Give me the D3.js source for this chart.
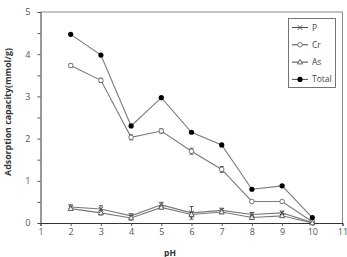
<!DOCTYPE html>
<html><head><meta charset="utf-8">
<script src="https://cdn.jsdelivr.net/npm/d3@7"></script>
<style>body{margin:0;background:#fff;}svg{display:block;font-family:"Open Sans",sans-serif;}</style>
</head><body>
<svg id="c" width="347" height="257"></svg>
<script>
const pH = [2,3,4,5,6,7,8,9,10];
const P     = [0.38,0.33,0.17,0.43,0.24,0.30,0.20,0.24,0.01];
const Cr    = [3.73,3.38,2.03,2.18,1.70,1.27,0.51,0.51,0.03];
const As    = [0.34,0.24,0.12,0.37,0.20,0.26,0.13,0.17,0.00];
const Total = [4.47,3.98,2.30,2.97,2.15,1.85,0.80,0.88,0.13];
const errP  = [0.05,0.08,0.05,0.06,0.15,0.05,0.05,0.04,0.01];
const errCr = [0.04,0.05,0.06,0.05,0.07,0.07,0.02,0.02,0.01];
const errAs = [0.04,0.05,0.05,0.04,0.06,0.04,0.04,0.03,0.01];
const xTicks = [1,2,3,4,5,6,7,8,9,10,11];
const yTicks = [0,1,2,3,4,5];
const seriesNames = ["P","Cr","As","Total"];

const svg = d3.select("#c");
const x = d3.scaleLinear().domain([1,11]).range([40.5,342.5]);
const y = d3.scaleLinear().domain([0,5]).range([223,12]);

// frame (top/right)
svg.append("path").attr("d",`M${x(1)},${y(5)}H${x(11)}V${y(0)}`).attr("fill","none").attr("stroke","#888").attr("stroke-width",1);

// axes
const xa = svg.append("g").attr("transform",`translate(0,${y(0)})`).call(d3.axisBottom(x).tickValues(xTicks).tickSize(3).tickPadding(3));
const ya = svg.append("g").attr("transform",`translate(${x(1)},0)`).call(d3.axisLeft(y).tickValues(d3.range(0,5.01,0.5)).tickSize(3).tickPadding(7).tickFormat(d=>Number.isInteger(d)?d:""));
[xa,ya].forEach(a=>{a.select(".domain").attr("stroke","#333");a.selectAll(".tick line").attr("stroke","#555");a.selectAll("text").attr("fill","#555").attr("font-size",9).attr("font-family","Open Sans, sans-serif");});

// labels
svg.append("text").attr("x",170).attr("y",256).attr("text-anchor","middle").attr("font-size",8.5).attr("font-weight","bold").attr("fill","#333").text("pH");
svg.append("text").attr("transform","translate(11,112) rotate(-90)").attr("text-anchor","middle").attr("font-size",8.8).attr("font-weight","bold").attr("fill","#333").text("Adsorption capacity(mmol/g)");

const line = d3.line().x((d,i)=>x(pH[i])).y(d=>y(d));
const data = [
  {name:"P",v:P,e:errP},
  {name:"Cr",v:Cr,e:errCr},
  {name:"As",v:As,e:errAs},
  {name:"Total",v:Total,e:null}
];
const lc = "#7a7a7a";
function marker(g,name,cx,cy){
  if(name==="P"){
    g.append("path").attr("d",`M${cx-2.3},${cy-2.3}L${cx+2.3},${cy+2.3}M${cx-2.3},${cy+2.3}L${cx+2.3},${cy-2.3}`).attr("stroke","#444").attr("stroke-width",0.9);
  } else if(name==="Cr"){
    g.append("circle").attr("cx",cx).attr("cy",cy).attr("r",2.3).attr("fill","#fff").attr("stroke","#666").attr("stroke-width",0.9);
  } else if(name==="As"){
    g.append("path").attr("d",`M${cx},${cy-2.7}L${cx+2.6},${cy+1.8}L${cx-2.6},${cy+1.8}Z`).attr("fill","#fff").attr("stroke","#555").attr("stroke-width",0.9);
  } else {
    g.append("circle").attr("cx",cx).attr("cy",cy).attr("r",2.6).attr("fill","#000");
  }
}
data.forEach(s=>{
  const g = svg.append("g");
  g.append("path").datum(s.v).attr("d",line).attr("fill","none").attr("stroke",lc).attr("stroke-width",1.1);
  if(s.e){
    s.v.forEach((d,i)=>{
      const cx=x(pH[i]);
      g.append("path").attr("d",`M${cx},${y(d+s.e[i])}V${y(Math.max(0,d-s.e[i]))}M${cx-2},${y(d+s.e[i])}H${cx+2}M${cx-2},${y(Math.max(0,d-s.e[i]))}H${cx+2}`).attr("stroke","#333").attr("stroke-width",0.8).attr("fill","none");
    });
  }
  s.v.forEach((d,i)=>marker(g,s.name,x(pH[i]),y(d)));
});

// legend
const lg = svg.append("g");
lg.append("rect").attr("x",288.5).attr("y",18.5).attr("width",47).attr("height",69).attr("fill","#fff").attr("stroke","#666").attr("stroke-width",0.9);
seriesNames.forEach((n,i)=>{
  const cy = 27.5 + i*17.3;
  lg.append("line").attr("x1",292).attr("x2",308).attr("y1",cy).attr("y2",cy).attr("stroke","#333").attr("stroke-width",0.9);
  marker(lg,n,300,cy);
  lg.append("text").attr("x",312).attr("y",cy+3).attr("font-size",8.5).attr("fill","#444").text(n);
});
</script>
</body></html>
